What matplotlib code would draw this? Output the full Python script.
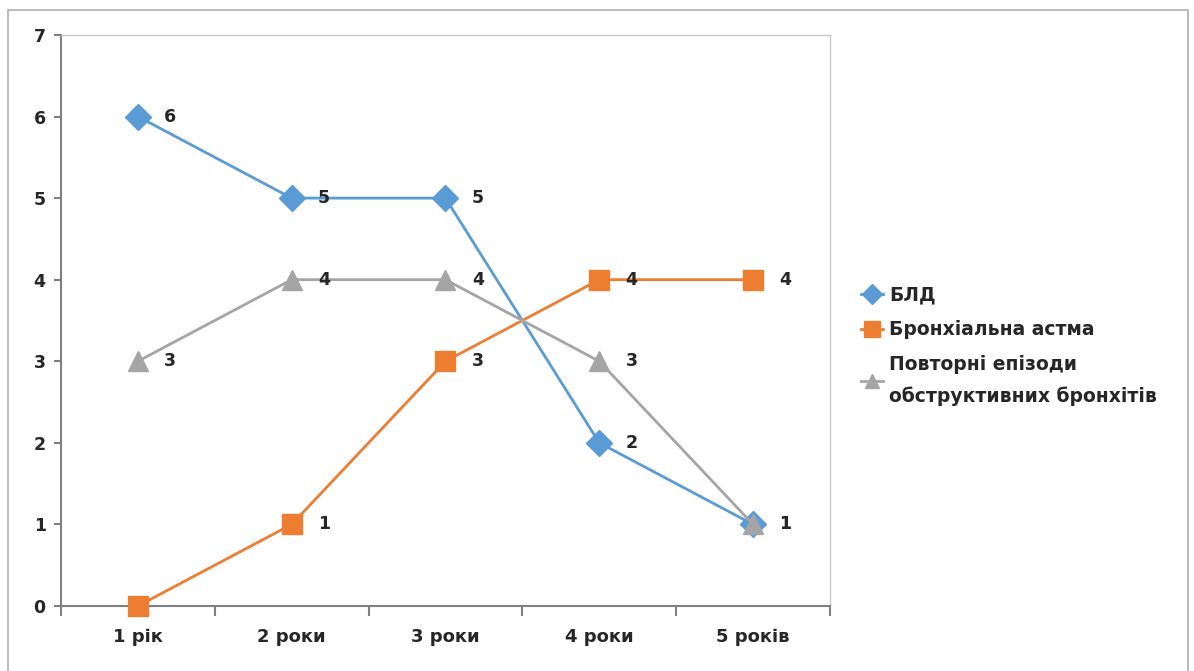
import matplotlib.pyplot as plt
from matplotlib.patches import Rectangle

plt.rcParams["font.family"] = ["DejaVu Sans"]
plt.rcParams["font.weight"] = "bold"

years = ["1 рік", "2 роки", "3 роки", "4 роки", "5 років"]
bld = [6, 5, 5, 2, 1]
asthma = [0, 1, 3, 4, 4]
bronchitis = [3, 4, 4, 3, 1]

# label shown next to each point (None = no label, as on the original)
bld_lab = ["6", "5", "5", "2", "1"]
asthma_lab = [None, "1", "3", "4", "4"]
bronchitis_lab = ["3", "4", "4", "3", "1"]

series = [
  ("БЛД", bld, bld_lab, "#5B9BD5", "D", 13),
  ("Бронхіальна астма", asthma, asthma_lab, "#ED7D31", "s", 15),
  ("Повторні епізоди\nобструктивних бронхітів", bronchitis, bronchitis_lab, "#A5A5A5", "^", 14),
]
txt = "#262626"

fig = plt.figure(figsize = (11.94, 6.71), dpi = 100)
fig.patches.append(Rectangle((0.0067, -0.05), 0.988, 1.035, transform = fig.transFigure,
  fill = False, edgecolor = "#b0b0b0", linewidth = 1.2))
ax = fig.add_axes([0.0511, 0.0969, 0.644, 0.851])

x = list(range(len(years)))
for name, vals, labs, col, mk, ms in series:
  ax.plot(x, vals, color = col, marker = mk, markersize = ms, linewidth = 2,
    label = name, clip_on = False, zorder = 3)
  for xi, v, lb in zip(x, vals, labs):
    if lb is None:
      continue
    ax.annotate(lb, (xi, v), xytext = (19, 0), textcoords = "offset points",
      va = "center", ha = "left", fontsize = 12.5, color = txt, zorder = 4)

ax.set_xlim(-0.5, 4.5)
ax.set_ylim(0, 7)
ax.set_yticks(range(8))
ax.set_xticks(x)
ax.set_xticklabels(years)
ax.set_xticks([i - 0.5 for i in range(6)], minor = True)
ax.tick_params(axis = "x", which = "major", length = 0, pad = 16, labelsize = 13, labelcolor = txt)
ax.tick_params(axis = "x", which = "minor", length = 7, width = 1.5, color = "#808080")
ax.tick_params(axis = "y", length = 5, width = 1.5, color = "#808080", labelsize = 12.5, pad = 6, labelcolor = txt)
for s in ["left", "bottom"]:
  ax.spines[s].set_color("#808080")
  ax.spines[s].set_linewidth(1.5)
for s in ["top", "right"]:
  ax.spines[s].set_color("#c8c8c8")
  ax.spines[s].set_linewidth(1)

leg = fig.legend(loc = "upper left", bbox_to_anchor = (0.721, 0.575), frameon = False,
  fontsize = 13.5, handlelength = 1.2, handletextpad = 0.3, labelspacing = 0.85,
  markerscale = 0.75, borderaxespad = 0, borderpad = 0)
for t in leg.get_texts():
  t.set_linespacing(1.8)
  t.set_color(txt)

fig.savefig("out.png", dpi = 100)
